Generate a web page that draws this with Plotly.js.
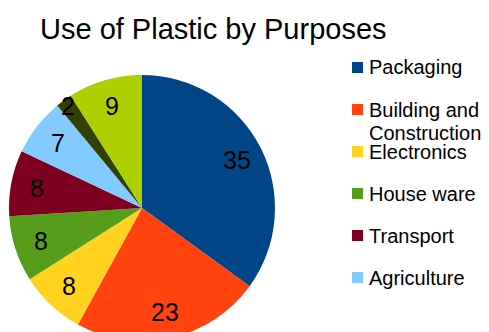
<!DOCTYPE html>
<html>
<head>
<meta charset="utf-8">
<script src="https://cdn.plot.ly/plotly-3.0.1.min.js"></script>
<style>
html,body{margin:0;padding:0;overflow:hidden;background:#fff;}
#chart{width:489px;height:345px;}
</style>
</head>
<body>
<div id="chart"></div>
<script>
// Data
const categories = ['Packaging', 'Building and Construction', 'Electronics', 'House ware', 'Transport', 'Agriculture', 'Medical', 'Others'];
const values = [35, 23, 8, 8, 8, 7, 2, 9];
const colors = ['#004586', '#ff420e', '#ffd320', '#579d1c', '#7e0021', '#83caff', '#314004', '#aecf00'];
// legend shows only the first six entries (the rest are cut off in the original)
const legendLabels = ['Packaging', 'Building and<br>Construction', 'Electronics', 'House ware', 'Transport', 'Agriculture'];

const FONT = '"Liberation Sans", Arial, sans-serif';
const W = 489, H = 345;
const mL = 9, mT = 75, side = 266;
const mR = W - mL - side, mB = H - mT - side;

const toPx = px => (px - mL) / side;
const toPy = py => 1 - (py - mT) / side;

const annotations = [];
const shapes = [];

// value labels placed along each slice's mid-angle (clockwise from 12 o'clock)
const total = values.reduce((a, b) => a + b, 0);
let cum = 0;
values.forEach(v => {
  const frac = v / total;
  const mid = (cum + frac / 2) * 2 * Math.PI;
  cum += frac;
  const rf = frac < 0.05 ? 0.95 : 0.8;
  annotations.push({
    xref: 'paper', yref: 'paper',
    x: 0.5 + 0.5 * rf * Math.sin(mid),
    y: 0.5 + 0.5 * rf * Math.cos(mid),
    xanchor: 'center', yanchor: 'middle', showarrow: false,
    text: String(v),
    font: {family: FONT, size: 25, color: '#000'}
  });
});

// legend (first six entries)
const legY0 = 67.5, legStep = 42, sq = 11, sqX = 352, txtX = 367, lineStep = 23;
legendLabels.forEach((lab, i) => {
  const cy = legY0 + i * legStep;
  shapes.push({
    type: 'rect', xref: 'paper', yref: 'paper',
    x0: toPx(sqX), x1: toPx(sqX + sq), y0: toPy(cy - sq / 2), y1: toPy(cy + sq / 2),
    fillcolor: colors[i], line: {width: 0}
  });
  lab.split('<br>').forEach((ln, k) => {
    annotations.push({
      xref: 'paper', yref: 'paper', x: toPx(txtX), y: toPy(cy + k * lineStep),
      xanchor: 'left', yanchor: 'middle', showarrow: false, text: ln,
      font: {family: FONT, size: 20, color: '#000'}
    });
  });
});

const trace = {
  type: 'pie',
  labels: categories,
  values: values,
  sort: false,
  direction: 'clockwise',
  rotation: 0,
  marker: {colors: colors, line: {width: 0}},
  textinfo: 'none',
  showlegend: false,
  hoverinfo: 'label+value'
};

const layout = {
  width: W, height: H,
  margin: {l: mL, r: mR, t: mT, b: mB, pad: 0},
  paper_bgcolor: '#fff',
  showlegend: false,
  title: {
    text: 'Use of Plastic by Purposes',
    font: {family: FONT, size: 29, color: '#000'},
    xref: 'container', yref: 'container',
    x: 40 / W, xanchor: 'left',
    y: 1 - 29 / H, yanchor: 'middle'
  },
  shapes: shapes,
  annotations: annotations
};

Plotly.newPlot('chart', [trace], layout, {displayModeBar: false, staticPlot: true});
</script>
</body>
</html>
